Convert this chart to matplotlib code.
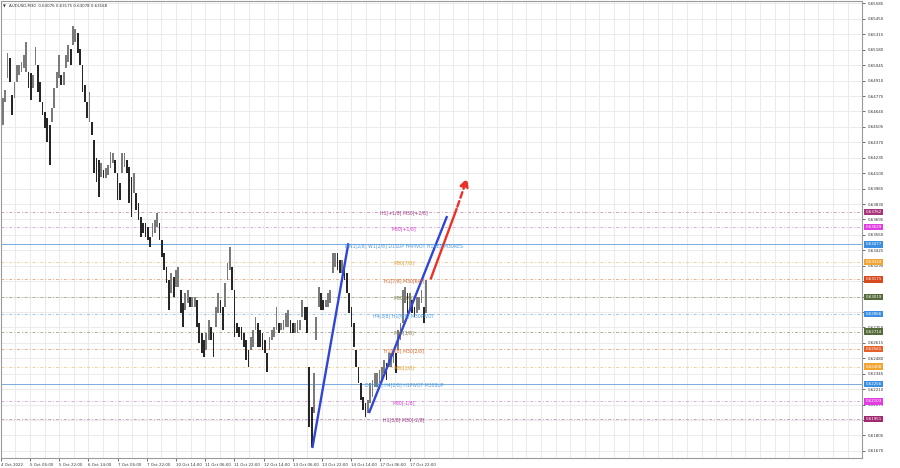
import matplotlib
matplotlib.use("Agg")
import matplotlib.pyplot as plt
import matplotlib.transforms as mtransforms
import numpy as np

# AUDUSD M30 (high / low)
highs = [
    0.64754, 0.64824, 0.65156, 0.65104, 0.64781, 0.64894, 0.65043, 0.65043, 0.65069, 0.65130,
    0.65244, 0.64982, 0.64973, 0.64956, 0.65200, 0.65043, 0.64894, 0.64720, 0.64632, 0.64580,
    0.64518, 0.64667, 0.64842, 0.64982, 0.65130, 0.64956, 0.64982, 0.65130, 0.65218, 0.65191,
    0.65392, 0.65366, 0.65331, 0.65191, 0.65043, 0.64868, 0.64720, 0.64807, 0.64545, 0.64387,
    0.64230, 0.64213, 0.64186, 0.64125, 0.64143, 0.64169, 0.64282, 0.64274, 0.64213, 0.64099,
    0.64011, 0.64274, 0.64274, 0.64213, 0.64151, 0.64064, 0.64099, 0.63924, 0.63837, 0.63714,
    0.63662, 0.63662, 0.63627, 0.63540, 0.63662, 0.63688, 0.63749, 0.63662, 0.63513, 0.63400,
    0.63277, 0.63164, 0.63225, 0.63190, 0.63251, 0.63277, 0.63076, 0.62963, 0.63050, 0.63076,
    0.63015, 0.63015, 0.63015, 0.62989, 0.62788, 0.62701, 0.62640, 0.62701, 0.62814, 0.62753,
    0.62701, 0.62928, 0.63050, 0.62989, 0.62928, 0.63138, 0.63312, 0.63452, 0.63277, 0.63076,
    0.62788, 0.62753, 0.62753, 0.62701, 0.62640, 0.62552, 0.62666, 0.62727, 0.62840, 0.62788,
    0.62727, 0.62701, 0.62640, 0.62526, 0.62666, 0.62727, 0.62753, 0.62928, 0.62788, 0.62788,
    0.62814, 0.62875, 0.62902, 0.62814, 0.62788, 0.62788, 0.62814, 0.62814, 0.62989, 0.62928,
    0.62928, 0.62403, 0.62054, 0.62351, 0.62840, 0.63103, 0.63050, 0.62989, 0.62989, 0.63050,
    0.63076, 0.63400, 0.63400, 0.63400, 0.63339, 0.63339, 0.63277, 0.63225, 0.63050, 0.62928,
    0.62788, 0.62552, 0.62403, 0.62264, 0.62141, 0.62089, 0.62115, 0.62264, 0.62290, 0.62351,
    0.62351, 0.62377, 0.62403, 0.62465, 0.62438, 0.62526, 0.62526, 0.62552, 0.62526, 0.62727,
    0.62788, 0.63076, 0.63103, 0.63050, 0.63050, 0.62989, 0.62928, 0.63015, 0.63015, 0.63076,
    0.62928, 0.63164,
]
lows = [
    0.64518, 0.64720, 0.64929, 0.64894, 0.64606, 0.64754, 0.64894, 0.64956, 0.64982, 0.65017,
    0.64982, 0.64842, 0.64737, 0.64842, 0.65043, 0.64807, 0.64720, 0.64606, 0.64492, 0.64370,
    0.64169, 0.64545, 0.64667, 0.64842, 0.64929, 0.64868, 0.64868, 0.65017, 0.65069, 0.65043,
    0.65218, 0.65244, 0.65156, 0.65043, 0.64807, 0.64720, 0.64580, 0.64545, 0.64431, 0.64099,
    0.64020, 0.63889, 0.64064, 0.64055, 0.64055, 0.64081, 0.64143, 0.64186, 0.64099, 0.63863,
    0.63863, 0.64099, 0.64151, 0.64099, 0.63837, 0.63714, 0.63924, 0.63776, 0.63688, 0.63540,
    0.63575, 0.63540, 0.63513, 0.63452, 0.63540, 0.63575, 0.63627, 0.63513, 0.63365, 0.63251,
    0.63138, 0.62902, 0.63050, 0.63015, 0.63103, 0.63103, 0.62875, 0.62753, 0.62902, 0.62963,
    0.62928, 0.62928, 0.62928, 0.62753, 0.62613, 0.62526, 0.62491, 0.62552, 0.62640, 0.62640,
    0.62491, 0.62753, 0.62875, 0.62875, 0.62727, 0.62928, 0.63164, 0.63251, 0.63076, 0.62666,
    0.62701, 0.62666, 0.62640, 0.62578, 0.62465, 0.62403, 0.62552, 0.62578, 0.62727, 0.62578,
    0.62578, 0.62552, 0.62526, 0.62360, 0.62552, 0.62640, 0.62666, 0.62727, 0.62701, 0.62727,
    0.62727, 0.62753, 0.62753, 0.62701, 0.62701, 0.62701, 0.62701, 0.62727, 0.62840, 0.62814,
    0.62701, 0.61879, 0.61704, 0.62001, 0.62640, 0.62928, 0.62902, 0.62902, 0.62928, 0.62928,
    0.62963, 0.63225, 0.63277, 0.63251, 0.63225, 0.63225, 0.63164, 0.63050, 0.62875, 0.62753,
    0.62578, 0.62403, 0.62264, 0.62115, 0.62028, 0.61966, 0.62001, 0.62089, 0.62141, 0.62229,
    0.62229, 0.62264, 0.62290, 0.62351, 0.62290, 0.62403, 0.62403, 0.62438, 0.62351, 0.62552,
    0.62640, 0.62788, 0.62963, 0.62875, 0.62902, 0.62875, 0.62840, 0.62875, 0.62902, 0.62963,
    0.62788, 0.62875,
]

title = "AUDUSD,M30  0.63076 0.63175 0.63078 0.63168"

time_labels = ["4 Oct 2022", "5 Oct 06:00", "5 Oct 22:00", "6 Oct 14:00", "7 Oct 06:00",
               "7 Oct 22:00", "10 Oct 14:00", "11 Oct 06:00", "11 Oct 22:00", "12 Oct 14:00",
               "13 Oct 06:00", "13 Oct 22:00", "14 Oct 14:00", "17 Oct 06:00", "17 Oct 22:00"]

price_ticks = [0.65585, 0.65450, 0.65315, 0.65180, 0.65045, 0.64910, 0.64775, 0.64640,
               0.64505, 0.64370, 0.64235, 0.64100, 0.63965, 0.63830, 0.63695, 0.63560,
               0.63425, 0.63290, 0.63155, 0.63020, 0.62885, 0.62750, 0.62615, 0.62480,
               0.62345, 0.62210, 0.62075, 0.61940, 0.61805, 0.61670]

# Murrey-math style levels
level_prices = [0.63762, 0.63629, 0.63477, 0.63324, 0.63171, 0.63019, 0.62866,
                0.62714, 0.62561, 0.62408, 0.62256, 0.62103, 0.61951]
level_names = ["H1[+1/8] M30[+2/8]", "M30[+1/8]", "MN1[2/8] W1[2/8] D1SUP H4PIVOT H1RES M30RES",
               "M30[7/8]", "H1[7/8] M30[6/8]", "M30[5/8]", "H4[3/8] H1[6/8] M30PIVOT",
               "M30[3/8]", "H1[5/8] M30[2/8]", "M30[1/8]", "D1[1/8] H4[2/8] H1PIVOT M30SUP",
               "M30[-1/8]", "H1[3/8] M30[-2/8]"]
level_box = ["#a8357a", "#e23de2", "#3b8fe3", "#f2a533", "#d9491e", "#566b3c", "#3b8fe3",
             "#566b3c", "#e5602a", "#f2a533", "#3b8fe3", "#e23de2", "#a0286e"]
level_text = ["#a03a86", "#d23cd2", "#4b98e0", "#e39a2a", "#d2692a", "#7a7a4a", "#4b98e0",
              "#7a7a4a", "#d2692a", "#e39a2a", "#4b98e0", "#d23cd2", "#a03a86"]
level_line = ["#d0a0c0", "#e0a8e0", "#78ade0", "#ecd0a0", "#e8b090", "#b0b090", "#9cc6ec",
              "#b0b090", "#e8b090", "#ecd0a0", "#78ade0", "#e0a8e0", "#d0a0c0"]
level_solid = [False, False, True, False, False, False, False,
               False, False, False, True, False, False]

# trend lines: (column, price) end points
blue_lines = [((132.3, 0.61695), (147.7, 0.63487)),
              ((156.5, 0.62001), (189.9, 0.63725))]
red_solid = ((183.0, 0.63181), (193.9, 0.63784))
red_dash = ((193.9, 0.63784), (198.9, 0.64081))

n = len(highs)
x = np.arange(n)
hi = np.array(highs)
lo = np.array(lows)
mid = (hi + lo) / 2

fig = plt.figure(figsize=(9, 4.68), dpi=100)
ax = fig.add_axes([0.001, 0.0214, 0.957, 0.9775])
ax.set_xlim(-0.83, 357.9)
ax.set_ylim(0.61608, 0.65611)

# grid
tick_step = 12.48
xt = -0.83 + tick_step * np.arange(len(time_labels))
ax.set_xticks(xt)
ax.set_xticklabels(time_labels, fontsize=2.9, ha="left")
ax.set_xticks(-0.83 + tick_step / 2 * np.arange(60), minor=True)
ax.tick_params(axis="x", which="major", length=2, width=0.5, pad=1.5, colors="#333333")
ax.tick_params(axis="x", which="minor", length=0)
ax.yaxis.tick_right()
ax.set_yticks(price_ticks)
ax.set_yticklabels([f"{p:.5f}" for p in price_ticks], fontsize=2.9)
ax.tick_params(axis="y", length=2, width=0.5, pad=2, colors="#333333")
ax.grid(True, which="both", color="#e8e8e8", lw=0.6)
ax.set_axisbelow(True)
for s in ax.spines.values():
    s.set_color("#9a9a9a")
    s.set_linewidth(0.8)

# level lines
for p, col, solid in zip(level_prices, level_line, level_solid):
    ax.axhline(p, color=col, lw=0.7, ls="-" if solid else (0, (3, 2, 1, 2)), zorder=1)

# price columns
up = np.r_[True, mid[1:] >= mid[:-1]]
colors = np.where(up, "#7a7a7a", "#262626")
ax.bar(x, hi - lo, bottom=lo, width=0.75, color=colors, linewidth=0, zorder=2)

# trend lines and projected move
for (x0, y0), (x1, y1) in blue_lines:
    ax.plot([x0, x1], [y0, y1], color="#2f45d6", lw=1.7, zorder=4, solid_capstyle="butt")
ax.plot([red_solid[0][0], red_solid[1][0]], [red_solid[0][1], red_solid[1][1]],
        color="#ea3027", lw=1.7, zorder=4)
ax.annotate("", xy=red_dash[1], xytext=red_dash[0],
            arrowprops=dict(arrowstyle="-|>,head_length=0.5,head_width=0.25", color="#ea3027",
                            lw=1.7, ls=(0, (2.5, 1.5))), zorder=4)

# level labels on chart and value boxes on the price scale
label_col = 171.5
trans = mtransforms.blended_transform_factory(ax.transAxes, ax.transData)
for p, name, tc, bc in zip(level_prices, level_names, level_text, level_box):
    ax.text(label_col, p - 0.00012, name, fontsize=3.3, color=tc, ha="center", va="center",
            zorder=5)
    ax.text(1.004, p, f"{p:.5f}", transform=trans, fontsize=2.9, color="white",
            ha="left", va="center", zorder=6, clip_on=False,
            bbox=dict(boxstyle="square,pad=0.3", fc=bc, ec="none"))

ax.text(0.003, 0.992, "\u25bc", transform=ax.transAxes, fontsize=2.6, va="top", ha="left",
        color="#333333")
ax.text(0.009, 0.992, title, transform=ax.transAxes, fontsize=2.9, va="top", ha="left",
        color="#333333")

fig.savefig("out.png", dpi=100, facecolor="white")
